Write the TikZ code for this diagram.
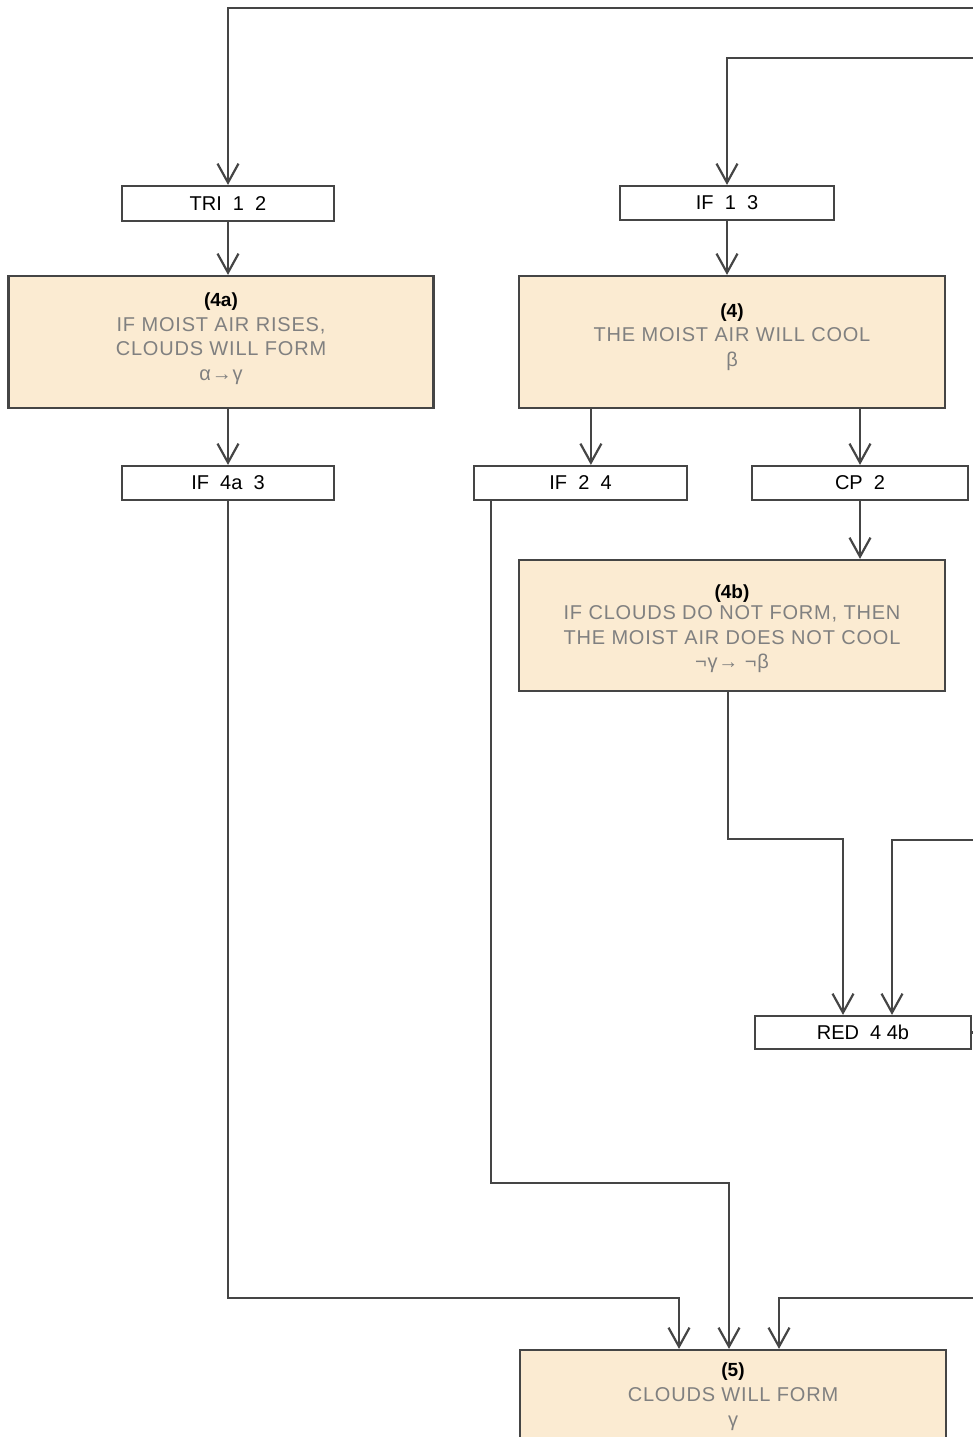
\documentclass[tikz,border=0pt]{standalone}
\usepackage{fontspec}
\setsansfont{Liberation Sans}
\newfontfamily\stmtface{Liberation Sans}[LetterSpace=4]
\usepackage{tikz}
\usetikzlibrary{arrows.meta,positioning,calc}
\definecolor{CardFill}{HTML}{FBEBD2}
\definecolor{LineGray}{HTML}{454545}
\definecolor{TextGray}{HTML}{808080}
\newcommand{\rulefont}{\sffamily\fontsize{20pt}{24pt}\selectfont}
\newcommand{\tagfont}{\sffamily\bfseries\fontsize{19pt}{23pt}\selectfont}
\newcommand{\stmtfont}{\stmtface\fontsize{20pt}{24.5pt}\selectfont}

\begin{document}
\begin{tikzpicture}[x=1pt,y=-1pt,
  rule/.style={draw=LineGray,line width=2.2pt,fill=white,minimum width=212pt,minimum height=34pt,inner sep=0pt,font=\rulefont},
  card/.style={draw=LineGray,line width=2.2pt,fill=CardFill,minimum width=425pt,minimum height=132pt,inner sep=0pt},
  tag/.style={font=\tagfont,text=black},
  body/.style={font=\stmtfont,text=TextGray,align=center},
  flow/.style={draw=LineGray,line width=2.2pt,-{Straight Barb[length=19pt,width=21pt]}},
  wire/.style={draw=LineGray,line width=2.2pt},
]
\useasboundingbox (0,0) rectangle (973,1437);
\clip (0,0) rectangle (973,1437);
% left column
\node[rule,minimum height=35pt] (tri) at (228,203.5) {TRI~~1~~2};
\node[card,below=52.8pt of tri,xshift=-7pt] (st4a) {};
\node[tag,yshift=40pt] at (st4a.center) {(4a)};
\node[body,yshift=-9pt] at (st4a.center) {IF MOIST AIR RISES,\\CLOUDS WILL FORM\\α→γ};
\node[rule,below=55.8pt of st4a,xshift=7pt] (ifa) {IF~~4a~~3};
% right column
\node[rule,minimum width=214pt] (if13) at (727,203) {IF~~1~~3};
\node[card,minimum width=426pt,below=53.8pt of if13,xshift=5pt] (st4) {};
\node[tag,yshift=29pt] at (st4.center) {(4)};
\node[body,yshift=-7pt] at (st4.center) {THE MOIST AIR WILL COOL\\β};
\node[rule,minimum width=213pt] (ifb) at (580.5,483) {IF~~2~~4};
\node[rule,minimum width=216pt] (cp) at (860,483) {CP~~2};
\node[card,minimum width=426pt,minimum height=131pt] (st4b) at (732,625.5) {};
\node[tag,yshift=32pt] at (st4b.center) {(4b)};
\node[body,yshift=-14pt] at (st4b.center) {IF CLOUDS DO NOT FORM, THEN\\THE MOIST AIR DOES NOT COOL\\¬γ→ ¬β};
\node[rule,minimum width=216pt,minimum height=33pt] (red) at (863,1032.5) {RED~~4 4b};
\node[card,minimum width=426pt] (st5) at (733,1416) {};
\node[tag,yshift=44pt] at (st5.center) {(5)};
\node[body,yshift=7pt] at (st5.center) {CLOUDS WILL FORM\\γ};
% free ends and joins
\coordinate (e1) at (980,8);
\coordinate (e2) at (980,58);
\coordinate (e3) at (980,840);
\coordinate (e4) at (980,1298);
\coordinate (m1) at ($(red.north)+(-20,0)$);
\coordinate (m2) at ($(red.north)+(29,0)$);
\coordinate (j1) at ($(st5.north)+(-54,0)$);
\coordinate (j2) at ($(st5.north)+(-4,0)$);
\coordinate (j3) at ($(st5.north)+(46,0)$);
% connectors
\draw[flow] (e1) -| (tri.north);
\draw[flow] (tri.south) -- (tri.south |- st4a.north);
\draw[flow] (st4a.south -| ifa.north) -- (ifa.north);
\draw[flow] (e2) -| (if13.north);
\draw[flow] (if13.south) -- (if13.south |- st4.north);
\draw[flow] ($(st4.south west)+(73,0)$) coordinate (d1) -- (d1 |- ifb.north);
\draw[flow] (st4.south -| cp.north) -- (cp.north);
\draw[flow] (cp.south) -- (cp.south |- st4b.north);
\draw[flow] ($(st4b.south)+(-4,0)$) -- ++(0,147) -| (m1);
\draw[flow] (e3) -| (m2);
\draw[wire] (red.east) -- ++(10,0);
\draw[flow] (ifa.south) -- ++(0,797) -| (j1);
\draw[flow] ($(ifb.south west)+(18,0)$) -- ++(0,682) -| (j2);
\draw[flow] (e4) -| (j3);
\end{tikzpicture}
\end{document}
